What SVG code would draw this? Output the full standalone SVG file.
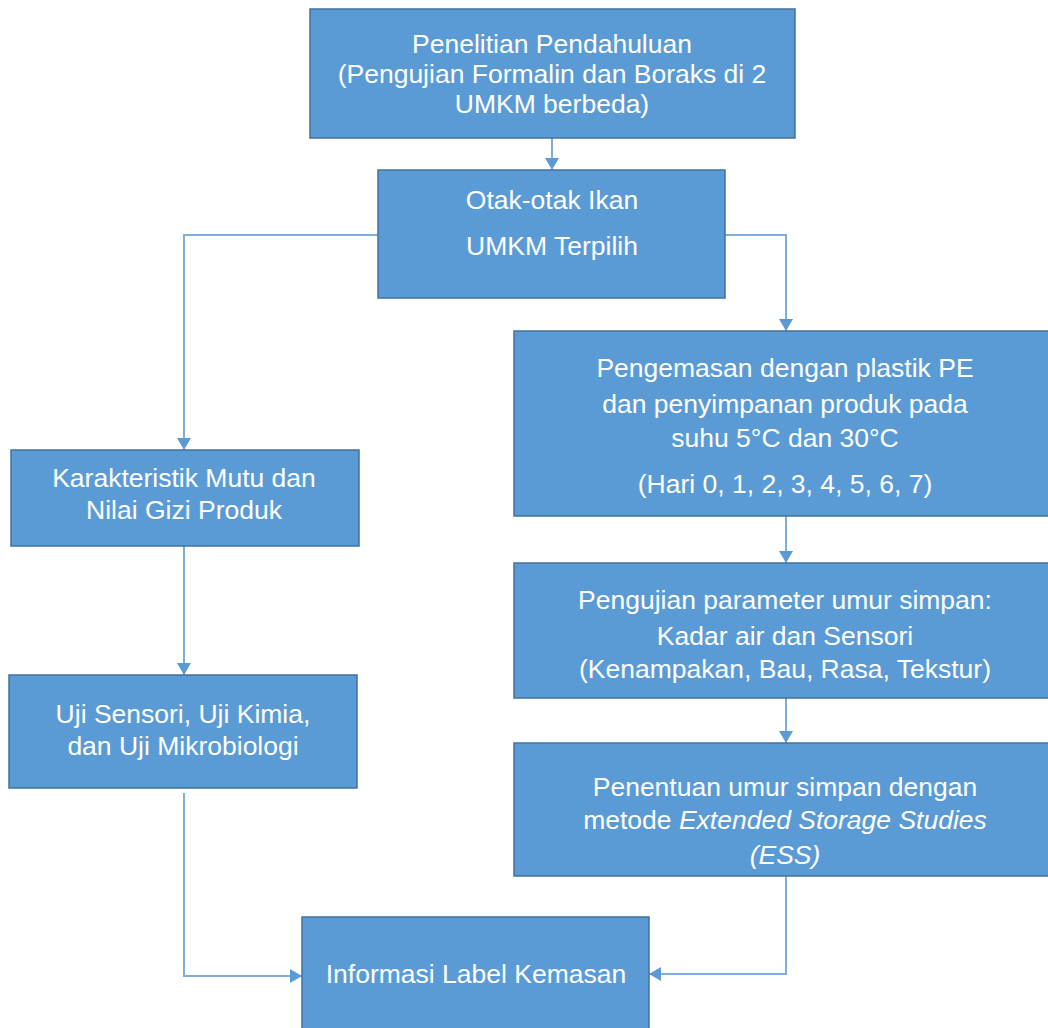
<svg xmlns="http://www.w3.org/2000/svg" width="1048" height="1028" viewBox="0 0 1048 1028">
<style>
.box{fill:#5B9BD5;stroke:#41719C;stroke-width:1.5}
.t{font-family:"Liberation Sans",Arial,sans-serif;font-size:26.5px;fill:#FFFFFF;text-anchor:middle}
.c{fill:none;stroke:#7FAEDD;stroke-width:2}
</style>
<defs>
<marker id="ah" viewBox="0 0 12 14" refX="12" refY="7" markerWidth="12" markerHeight="14" markerUnits="userSpaceOnUse" orient="auto">
<path d="M0,0 L12,7 L0,14 Z" fill="#5B9BD5"/>
</marker>
</defs>
<rect width="1048" height="1028" fill="#FFFFFF"/>
<g id="connectors">
<path class="c" d="M552,138 V170" marker-end="url(#ah)"/>
<path class="c" d="M378,235 H184 V450" marker-end="url(#ah)"/>
<path class="c" d="M725,235 H786 V331" marker-end="url(#ah)"/>
<path class="c" d="M184,546 V675" marker-end="url(#ah)"/>
<path class="c" d="M786,516 V563" marker-end="url(#ah)"/>
<path class="c" d="M786,698 V743" marker-end="url(#ah)"/>
<path class="c" d="M184,793 V976 H302" marker-end="url(#ah)"/>
<path class="c" d="M786,876 V974 H649" marker-end="url(#ah)"/>
</g>
<g id="n1">
<rect class="box" x="310" y="9" width="485" height="129"/>
<text class="t" x="552" y="53">Penelitian Pendahuluan</text>
<text class="t" x="552" y="83">(Pengujian Formalin dan Boraks di 2</text>
<text class="t" x="552" y="113">UMKM berbeda)</text>
</g>
<g id="n2">
<rect class="box" x="378" y="170" width="347" height="128"/>
<text class="t" x="552" y="209">Otak-otak Ikan</text>
<text class="t" x="552" y="255">UMKM Terpilih</text>
</g>
<g id="n3">
<rect class="box" x="11" y="450" width="348" height="96"/>
<text class="t" x="184" y="487">Karakteristik Mutu dan</text>
<text class="t" x="184" y="519">Nilai Gizi Produk</text>
</g>
<g id="n4">
<rect class="box" x="9" y="675" width="348" height="113"/>
<text class="t" x="183" y="723">Uji Sensori, Uji Kimia,</text>
<text class="t" x="183" y="755">dan Uji Mikrobiologi</text>
</g>
<g id="n5">
<rect class="box" x="514" y="331" width="540" height="185"/>
<text class="t" x="785" y="377">Pengemasan dengan plastik PE</text>
<text class="t" x="785" y="413">dan penyimpanan produk pada</text>
<text class="t" x="785" y="447">suhu 5°C dan 30°C</text>
<text class="t" x="785" y="493">(Hari 0, 1, 2, 3, 4, 5, 6, 7)</text>
</g>
<g id="n6">
<rect class="box" x="514" y="563" width="540" height="135"/>
<text class="t" x="785" y="609">Pengujian parameter umur simpan:</text>
<text class="t" x="785" y="645">Kadar air dan Sensori</text>
<text class="t" x="785" y="678">(Kenampakan, Bau, Rasa, Tekstur)</text>
</g>
<g id="n7">
<rect class="box" x="514" y="743" width="540" height="133"/>
<text class="t" x="785" y="796">Penentuan umur simpan dengan</text>
<text class="t" x="785" y="829">metode <tspan font-style="italic">Extended Storage Studies</tspan></text>
<text class="t" x="785" y="864" font-style="italic">(ESS)</text>
</g>
<g id="n8">
<rect class="box" x="302" y="917" width="347" height="120"/>
<text class="t" x="476" y="983">Informasi Label Kemasan</text>
</g>
</svg>
